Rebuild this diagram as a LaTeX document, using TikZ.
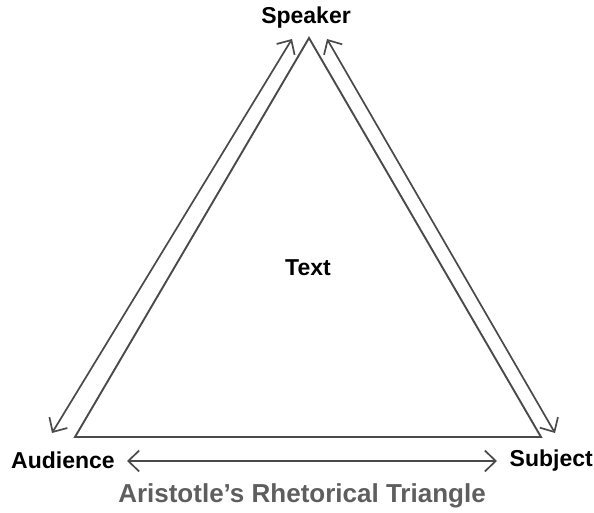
\documentclass[tikz,border=0pt]{standalone}
\usepackage{fontspec}
\setmainfont{Liberation Sans}
\usetikzlibrary{arrows.meta}
\definecolor{linegray}{HTML}{4A4A4A}
\definecolor{titlegray}{HTML}{5E5E5E}
\tikzset{
  edge/.style={draw=linegray, line width=1.9pt, line join=miter},
  dblarrow/.style={draw=linegray, line width=1.7pt, {Straight Barb[length=11pt,width=21pt,line width=1.7pt]}-{Straight Barb[length=11pt,width=21pt,line width=1.7pt]}},
  lbl/.style={font=\bfseries\fontsize{23}{26}\selectfont, text=black, inner sep=0pt},
}
\begin{document}
\begin{tikzpicture}[x=1pt,y=-1pt]
\useasboundingbox (0,0) rectangle (594,513);
% triangle vertices
\coordinate (top) at (309,38);
\coordinate (bl) at (75,437);
\coordinate (br) at (541,437);
\draw[edge] (bl) -- (top) -- (br) -- cycle;
% arrow end points
\coordinate (la1) at (292,39);
\coordinate (la2) at (52,433);
\coordinate (ra1) at (327,39);
\coordinate (ra2) at (555,433);
\coordinate (ba1) at (127,461);
\coordinate (ba2) at (497,461);
\draw[dblarrow] (la2) -- (la1);
\draw[dblarrow] (ra1) -- (ra2);
\draw[dblarrow] (ba1) -- (ba2);
% labels
\node[lbl] (speaker) at (306,18) {Speaker};
\node[lbl] (text) at (308,268) {Text};
\node[lbl, anchor=west] (audience) at (11,460) {Audience};
\node[lbl, anchor=east] (subject) at (593,461) {Subject};
\node[font=\bfseries\fontsize{26}{30}\selectfont, text=titlegray, inner sep=0pt] (title) at (302,496) {Aristotle’s Rhetorical Triangle};
\end{tikzpicture}
\end{document}
